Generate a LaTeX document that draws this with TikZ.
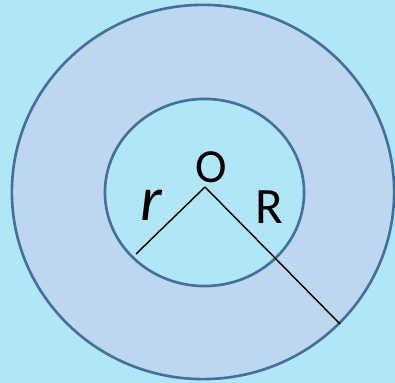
\documentclass[tikz,border=0pt]{standalone}
\usepackage{fontspec}
\setmainfont{Carlito}
\usepackage{tikz}
\usetikzlibrary{positioning}
\definecolor{sky}{RGB}{178,229,248}
\definecolor{ring}{RGB}{189,215,238}
\definecolor{rim}{RGB}{65,113,156}

\begin{document}
\begin{tikzpicture}[x=0.01cm, y=-0.01cm, every node/.style={inner sep=0pt}]
  \fill[sky] (0,0) rectangle (395,383);
  \useasboundingbox (0,0) rectangle (395,383);

  \fill[ring, draw=rim, line width=0.75pt] (203,192) ellipse [x radius=1.91cm, y radius=1.87cm];
  \fill[sky, draw=rim, line width=0.75pt] (204.5,192.5) ellipse [x radius=0.995cm, y radius=0.935cm];

  \coordinate (o) at (205,187);
  \coordinate (rend) at (136,254);
  \coordinate (Rend) at (340,324);

  \node (lO) at (211.5,167) {\fontsize{13.5}{14}\selectfont O};
  \node (lr) at (151,205) {\fontsize{18}{18}\selectfont\itshape r};
  \node (lR) at (269,207) {\fontsize{14.5}{15}\selectfont R};

  \draw[line width=0.4pt] (o) -- (rend);
  \draw[line width=0.4pt] (o) -- (Rend);
\end{tikzpicture}
\end{document}
